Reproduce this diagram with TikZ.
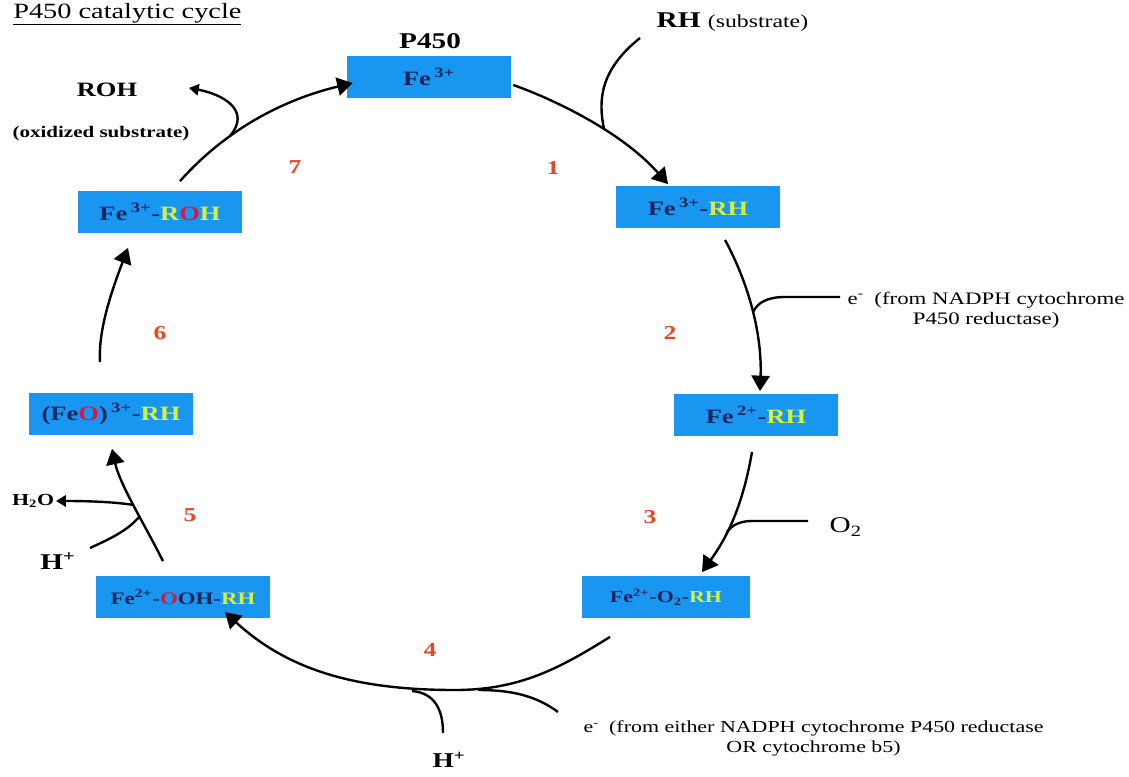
\documentclass[tikz,border=0pt]{standalone}
\usepackage{fontspec}
\setmainfont[FakeStretch=1.3]{Liberation Serif}
\usetikzlibrary{arrows.meta,calc}

\definecolor{boxblue}{RGB}{24,150,240}
\definecolor{navy}{RGB}{25,35,95}
\definecolor{rhgreen}{RGB}{215,240,60}
\definecolor{ored}{RGB}{215,25,70}
\definecolor{stepred}{RGB}{230,70,35}

\newcommand{\RH}{\textcolor{rhgreen}{RH}}
\newcommand{\Ox}{\textcolor{ored}{O}}

\tikzset{
  state/.style={fill=boxblue, minimum width=4.1cm, minimum height=1.03cm, inner sep=0pt,
    text=navy, font=\fontsize{14.5}{16}\selectfont\bfseries},
  lbl/.style={font=\fontsize{16}{18}\selectfont\bfseries, inner sep=1pt},
  note/.style={font=\fontsize{12}{14}\selectfont, align=center, inner sep=1pt},
  stepnum/.style={text=stepred, font=\fontsize{14}{16}\selectfont\bfseries},
  cyc/.style={line width=1.7pt, -{Triangle[length=11pt,width=13pt]}},
  side/.style={line width=1.7pt},
  sidearr/.style={line width=1.7pt, -{Triangle[length=7pt,width=8pt]}}
}

\begin{document}
\begin{tikzpicture}[x=0.025cm, y=-0.025cm]
    \useasboundingbox (0,0) rectangle (1129,776);

    % Titel
    \node[anchor=base west, inner sep=0pt, font=\fontsize{15.5}{18}\selectfont] (title) at (13,18) {\underline{P450 catalytic cycle}};

    % Zustaende im Zyklus
    \node[state] (p450) at (429,77) {Fe\,\textsuperscript{3+}};
    \node[state] (ferh) at (698,207) {Fe\,\textsuperscript{3+}-\RH};
    \node[state] (fe2rh) at (756,415) {Fe\,\textsuperscript{2+}-\RH};
    \node[state, minimum width=4.2cm] (feo2rh) at (666,597) {\fontsize{12}{14}\selectfont Fe\textsuperscript{2+}-O\textsubscript{2}-\RH};
    \node[state, minimum width=4.35cm] (feoohrh) at (183,597) {\fontsize{12.5}{14}\selectfont Fe\textsuperscript{2+}-\Ox OH-\RH};
    \node[state] (feorh) at (111,414) {(Fe\Ox)\,\textsuperscript{3+}-\RH};
    \node[state] (feroh) at (160,212) {Fe\,\textsuperscript{3+}-\textcolor{rhgreen}{R}\Ox\textcolor{rhgreen}{H}};

    % Beschriftungen
    \node[lbl] (lblP450) at (430,41) {P450};
    \node[lbl, anchor=west] (lblRH) at (655,22) {RH \mdseries\fontsize{13}{15}\selectfont(substrate)};
    \node[note, anchor=north west, font=\fontsize{12.5}{14.5}\selectfont] (lblE1) at (846,290) {e\textsuperscript{-}\; (from NADPH cytochrome\\P450 reductase)};
    \node[lbl, anchor=west, font=\fontsize{16}{18}\selectfont] (lblO2) at (828,527) {O\textsubscript{2}};
    \node[note, anchor=north west] (lblE2) at (582,719) {e\textsuperscript{-}\; (from either NADPH cytochrome P450 reductase\\OR cytochrome b5)};
    \node[lbl, font=\fontsize{15}{17}\selectfont\bfseries] (lblHa) at (449,760) {H\textsuperscript{+}};
    \node[lbl, font=\fontsize{12}{14}\selectfont\bfseries, anchor=east] (lblH2O) at (56,501) {H\textsubscript{2}O};
    \node[lbl] (lblHb) at (58,561) {H\textsuperscript{+}};
    \node[lbl, font=\fontsize{14.5}{17}\selectfont\bfseries] (lblROH) at (107,90) {ROH};
    \node[lbl, font=\fontsize{11.5}{13}\selectfont\bfseries] (lblOx) at (101,134) {(oxidized substrate)};

    % Schrittnummern
    \node[stepnum] (s1) at (553,168) {1};
    \node[stepnum] (s2) at (670,333) {2};
    \node[stepnum] (s3) at (650,517) {3};
    \node[stepnum] (s4) at (430,650) {4};
    \node[stepnum] (s5) at (190,515) {5};
    \node[stepnum] (s6) at (160,333) {6};
    \node[stepnum] (s7) at (295,167) {7};

    % Punkte fuer die Zufluesse
    \coordinate (rhin) at (640,38);
    \coordinate (j1) at (604,129);
    \coordinate (ein) at (840,297);
    \coordinate (j2) at (753,312);
    \coordinate (o2in) at (808,521);
    \coordinate (j3) at (727,532);
    \coordinate (e2in) at (558,712);
    \coordinate (hin) at (443,733);
    \coordinate (j4) at (455,690);
    \coordinate (j4b) at (412,691);
    \coordinate (h2oout) at (134,505);
    \coordinate (hbin) at (90,548);
    \coordinate (j5) at (139,517);
    \coordinate (rohout) at (230,136);

    % Zyklus
    \draw[cyc] ($(p450.east)+(2,8)$) .. controls (550,98) and (620,130) .. ($(ferh.north)+(-30,-2)$);
    \draw[cyc] ($(ferh.south)+(27,12)$) .. controls (752,290) and (762,340) .. ($(fe2rh.north)+(4,-3)$);
    \draw[cyc] ($(fe2rh.south)+(-4,16)$) .. controls (742,510) and (725,540) .. ($(feo2rh.north)+(36,-4)$);
    \draw[cyc] ($(feo2rh.south)+(-56,19)$) .. controls (560,668) and (520,690) .. (j4)
        .. controls (360,690) and (290,672) .. ($(feoohrh.north)+(42,36)$);
    \draw[cyc] ($(feoohrh.north)+(-20,-15)$) .. controls (145,525) and (120,485) .. ($(feorh.south)+(1,14)$);
    \draw[cyc] ($(feorh.north)+(-11,-31)$) .. controls (98,330) and (112,290) .. ($(feroh.south)+(-32,15)$);
    \draw[cyc] ($(feroh.north)+(20,-10)$) .. controls (230,125) and (290,98) .. ($(p450.west)+(6,6)$);

    % Zu- und Abfluesse
    \draw[side] (rhin) .. controls (600,70) and (598,100) .. (j1);
    \draw[side] (ein) -- (785,297) .. controls (768,297) and (758,302) .. (j2);
    \draw[side] (o2in) -- (752,521) .. controls (740,521) and (732,525) .. (j3);
    \draw[side] (e2in) .. controls (535,695) and (510,690) .. (478,690);
    \draw[side] (hin) .. controls (443,710) and (435,693) .. (j4b);
    \draw[sidearr] (h2oout) .. controls (115,502) and (90,501) .. (lblH2O.east);
    \draw[side] (hbin) .. controls (112,538) and (128,530) .. (j5);
    \draw[sidearr] (rohout) .. controls (252,110) and (222,94) .. ($(lblROH.east)+(50,-2)$);
\end{tikzpicture}
\end{document}
